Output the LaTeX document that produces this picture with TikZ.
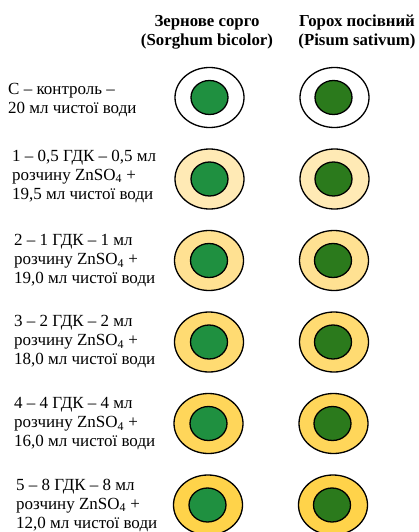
\documentclass[tikz,border=0pt]{standalone}
\usepackage{fontspec}
\setmainfont{Liberation Serif}
\definecolor{sorg}{HTML}{1F9040}
\definecolor{pea}{HTML}{2B7A1C}
\definecolor{r1}{HTML}{FFFFFF}
\definecolor{r2}{HTML}{FFEAB5}
\definecolor{r3}{HTML}{FFE192}
\definecolor{r4}{HTML}{FFDB72}
\definecolor{r5}{HTML}{FFD65A}
\definecolor{r6}{HTML}{FFD34A}
\tikzset{
  outerring/.style={ellipse, draw=black, line width=1.3pt, minimum width=69pt, minimum height=60pt, inner sep=0pt},
  innerdisk/.style={ellipse, draw=black, line width=1.3pt, minimum width=37pt, minimum height=34pt, inner sep=0pt},
  lbl/.style={anchor=west, align=left, inner sep=0pt, font=\fontsize{17}{19}\selectfont},
  hdr/.style={align=center, inner sep=0pt, font=\fontsize{16.8}{19}\selectfont\bfseries}
}
\usetikzlibrary{shapes.geometric}
\begin{document}
\begin{tikzpicture}[x=1pt,y=-1pt]
\useasboundingbox (0,0) rectangle (418,532);
\node[hdr] (h1) at (207,32) {Зернове сорго\\(Sorghum bicolor)};
\node[hdr] (h2) at (357,32) {Горох посівний\\(Pisum sativum)};
% row 1
\node[lbl] (t1) at (8,100) {С – контроль –\\20 мл чистої води};
\node[outerring, fill=r1] (a1) at (209.5,97.5) {};
\node[innerdisk, fill=sorg] (b1) at (209.5,97.5) {};
\node[outerring, fill=r1] (c1) at (334.5,97.5) {};
\node[innerdisk, fill=pea] (d1) at (333.5,97.5) {};
% row 2
\node[lbl] (t2) at (12,176) {1 – 0,5 ГДК – 0,5 мл\\розчину ZnSO\textsubscript{4} +\\19,5 мл чистої води};
\node[outerring, fill=r2] (a2) at (209.5,179) {};
\node[innerdisk, fill=sorg] (b2) at (209.5,179) {};
\node[outerring, fill=r2] (c2) at (334.5,179) {};
\node[innerdisk, fill=pea] (d2) at (333.5,179) {};
% row 3
\node[lbl] (t3) at (14,261) {2 – 1 ГДК – 1 мл\\розчину ZnSO\textsubscript{4} +\\19,0 мл чистої води};
\node[outerring, fill=r3] (a3) at (209,260.5) {};
\node[innerdisk, fill=sorg] (b3) at (209,260.5) {};
\node[outerring, fill=r3] (c3) at (334,260.5) {};
\node[innerdisk, fill=pea] (d3) at (333,260.5) {};
% row 4
\node[lbl] (t4) at (14,342) {3 – 2 ГДК – 2 мл\\розчину ZnSO\textsubscript{4} +\\18,0 мл чистої води};
\node[outerring, fill=r4] (a4) at (209,342) {};
\node[innerdisk, fill=sorg] (b4) at (209,342) {};
\node[outerring, fill=r4] (c4) at (334,342) {};
\node[innerdisk, fill=pea] (d4) at (333,342) {};
% row 5
\node[lbl] (t5) at (14,423.5) {4 – 4 ГДК – 4 мл\\розчину ZnSO\textsubscript{4} +\\16,0 мл чистої води};
\node[outerring, fill=r5] (a5) at (208.5,423.5) {};
\node[innerdisk, fill=sorg] (b5) at (208.5,423.5) {};
\node[outerring, fill=r5] (c5) at (333.5,423.5) {};
\node[innerdisk, fill=pea] (d5) at (332.5,423.5) {};
% row 6
\node[lbl] (t6) at (16,505) {5 – 8 ГДК – 8 мл\\розчину ZnSO\textsubscript{4} +\\12,0 мл чистої води};
\node[outerring, fill=r6] (a6) at (208,505) {};
\node[innerdisk, fill=sorg] (b6) at (207.5,505) {};
\node[outerring, fill=r6] (c6) at (333,505) {};
\node[innerdisk, fill=pea] (d6) at (332,505) {};
\end{tikzpicture}
\end{document}
